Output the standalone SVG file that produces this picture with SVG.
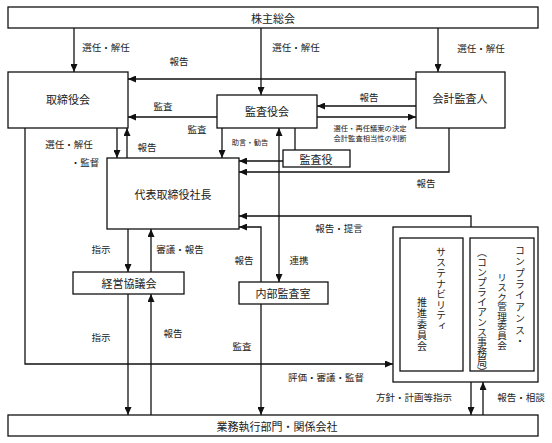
<svg xmlns="http://www.w3.org/2000/svg" width="552" height="443" viewBox="0 0 552 443">
<style>
.box{fill:#fff;stroke:#111;stroke-width:1.3}
.t{font-family:"Noto Sans CJK JP","Noto Sans",sans-serif;font-size:11px;fill:#222;text-anchor:middle;dominant-baseline:central}
.l{font-family:"Noto Sans CJK JP","Noto Sans",sans-serif;font-size:9.5px;fill:#222;text-anchor:middle;dominant-baseline:central}
.s{font-family:"Noto Sans CJK JP","Noto Sans",sans-serif;font-size:7.3px;fill:#222;text-anchor:middle;dominant-baseline:central}
.v{font-family:"Noto Sans CJK JP","Noto Sans",sans-serif;font-size:10px;fill:#222;writing-mode:vertical-rl;text-orientation:mixed}
.c{fill:none;stroke:#111;stroke-width:1.3}
</style>
<defs>
<marker id="ah" markerUnits="userSpaceOnUse" markerWidth="8" markerHeight="7" refX="8" refY="3.5" orient="auto">
<path d="M0,0 L8,3.5 L0,7 z" fill="#111"/>
</marker>
<marker id="as" markerUnits="userSpaceOnUse" markerWidth="8" markerHeight="7" refX="0" refY="3.5" orient="auto">
<path d="M8,0 L0,3.5 L8,7 z" fill="#111"/>
</marker>
</defs>
<rect width="552" height="443" fill="#fff"/>

<g id="connectors">
<path class="c" d="M74,28 V72" marker-end="url(#ah)"/>
<path class="c" d="M261,28 V95" marker-end="url(#ah)"/>
<path class="c" d="M438,28 V72" marker-end="url(#ah)"/>
<path class="c" d="M416,79 H128" marker-end="url(#ah)"/>
<path class="c" d="M217,117 H128" marker-end="url(#ah)"/>
<path class="c" d="M416,106 H317" marker-end="url(#ah)"/>
<path class="c" d="M317,117 H416" marker-end="url(#ah)"/>
<path class="c" d="M117,128 V158" marker-end="url(#ah)"/>
<path class="c" d="M127,158 V128" marker-end="url(#ah)"/>
<path class="c" d="M222,128 V158" marker-end="url(#ah)"/>
<path class="c" d="M279,128 V282" marker-start="url(#as)" marker-end="url(#ah)"/>
<path class="c" d="M295,128 V150"/>
<path class="c" d="M283,161 H239" marker-end="url(#ah)"/>
<path class="c" d="M449,128 V172 H239" marker-end="url(#ah)"/>
<path class="c" d="M471,227 V216 H239" marker-end="url(#ah)"/>
<path class="c" d="M261,282 V227 H239" marker-end="url(#ah)"/>
<path class="c" d="M128,229 V272" marker-end="url(#ah)"/>
<path class="c" d="M151,272 V229" marker-end="url(#ah)"/>
<path class="c" d="M128,294 V415" marker-end="url(#ah)"/>
<path class="c" d="M151,415 V294" marker-end="url(#ah)"/>
<path class="c" d="M261,304 V415" marker-end="url(#ah)"/>
<path class="c" d="M25,128 V364 H393" marker-end="url(#ah)"/>
<path class="c" d="M471,382 V415" marker-end="url(#ah)"/>
<path class="c" d="M483,415 V382" marker-end="url(#ah)"/>
</g>

<g id="labels">
<text class="l" x="106" y="47">選任・解任</text>
<text class="l" x="296" y="47">選任・解任</text>
<text class="l" x="481" y="48">選任・解任</text>
<text class="l" x="179" y="61">報告</text>
<text class="l" x="163" y="106">監査</text>
<text class="l" x="369" y="97">報告</text>
<text class="l" x="197" y="129">監査</text>
<text class="l" x="147" y="147">報告</text>
<text class="s" x="370" y="128">選任・再任議案の決定</text>
<text class="s" x="370" y="138">会計監査相当性の判断</text>
<text class="s" x="250" y="142">助言・勧告</text>
<text class="l" x="69" y="144">選任・解任</text>
<text class="l" x="85" y="162">・監督</text>
<text class="l" x="426" y="183">報告</text>
<text class="l" x="339" y="228">報告・提言</text>
<text class="l" x="299" y="260">連携</text>
<text class="l" x="244" y="260">報告</text>
<text class="l" x="101" y="249">指示</text>
<text class="l" x="180" y="249">審議・報告</text>
<text class="l" x="101" y="337">指示</text>
<text class="l" x="173" y="333">報告</text>
<text class="l" x="242" y="346">監査</text>
<text class="l" x="326" y="377">評価・審議・監督</text>
<text class="l" x="414" y="397">方針・計画等指示</text>
<text class="l" x="521" y="397">報告・相談</text>
</g>

<g id="shareholders">
<rect class="box" x="8" y="7" width="530" height="21"/>
<text class="t" x="273" y="18">株主総会</text>
</g>
<g id="board">
<rect class="box" x="8" y="72" width="120" height="56"/>
<text class="t" x="68" y="99">取締役会</text>
</g>
<g id="audit-board">
<rect class="box" x="217" y="95" width="100" height="33"/>
<text class="t" x="267" y="111">監査役会</text>
</g>
<g id="accounting-auditor">
<rect class="box" x="416" y="72" width="89" height="56"/>
<text class="t" x="460" y="98">会計監査人</text>
</g>
<g id="auditor">
<rect class="box" x="283" y="150" width="67" height="17"/>
<text class="t" x="316" y="159">監査役</text>
</g>
<g id="president">
<rect class="box" x="107" y="158" width="132" height="71"/>
<text class="t" x="173" y="194">代表取締役社長</text>
</g>
<g id="management-council">
<rect class="box" x="73" y="272" width="111" height="22"/>
<text class="t" x="129" y="283">経営協議会</text>
</g>
<g id="internal-audit">
<rect class="box" x="239" y="282" width="89" height="22"/>
<text class="t" x="283" y="293">内部監査室</text>
</g>
<g id="committees">
<rect class="box" x="393" y="227" width="145" height="155"/>
<g id="sustainability">
<rect class="box" x="400" y="238" width="63" height="133"/>
<text class="v" x="441" y="247" style="letter-spacing:0.6px">サステナビリティ</text>
<text class="v" x="422" y="297" style="letter-spacing:1px">推進委員会</text>
</g>
<g id="compliance">
<rect class="box" x="470" y="238" width="64" height="133"/>
<text class="v" x="520" y="245" style="letter-spacing:1.4px">コンプライアンス・</text>
<text class="v" x="502" y="273" style="font-size:9.6px">リスク管理委員会</text>
<text class="v" x="482" y="247">（コンプライアンス事務局）</text>
</g>
</g>
<g id="operations">
<rect class="box" x="8" y="415" width="530" height="21"/>
<text class="t" x="277" y="426">業務執行部門・関係会社</text>
</g>
</svg>
